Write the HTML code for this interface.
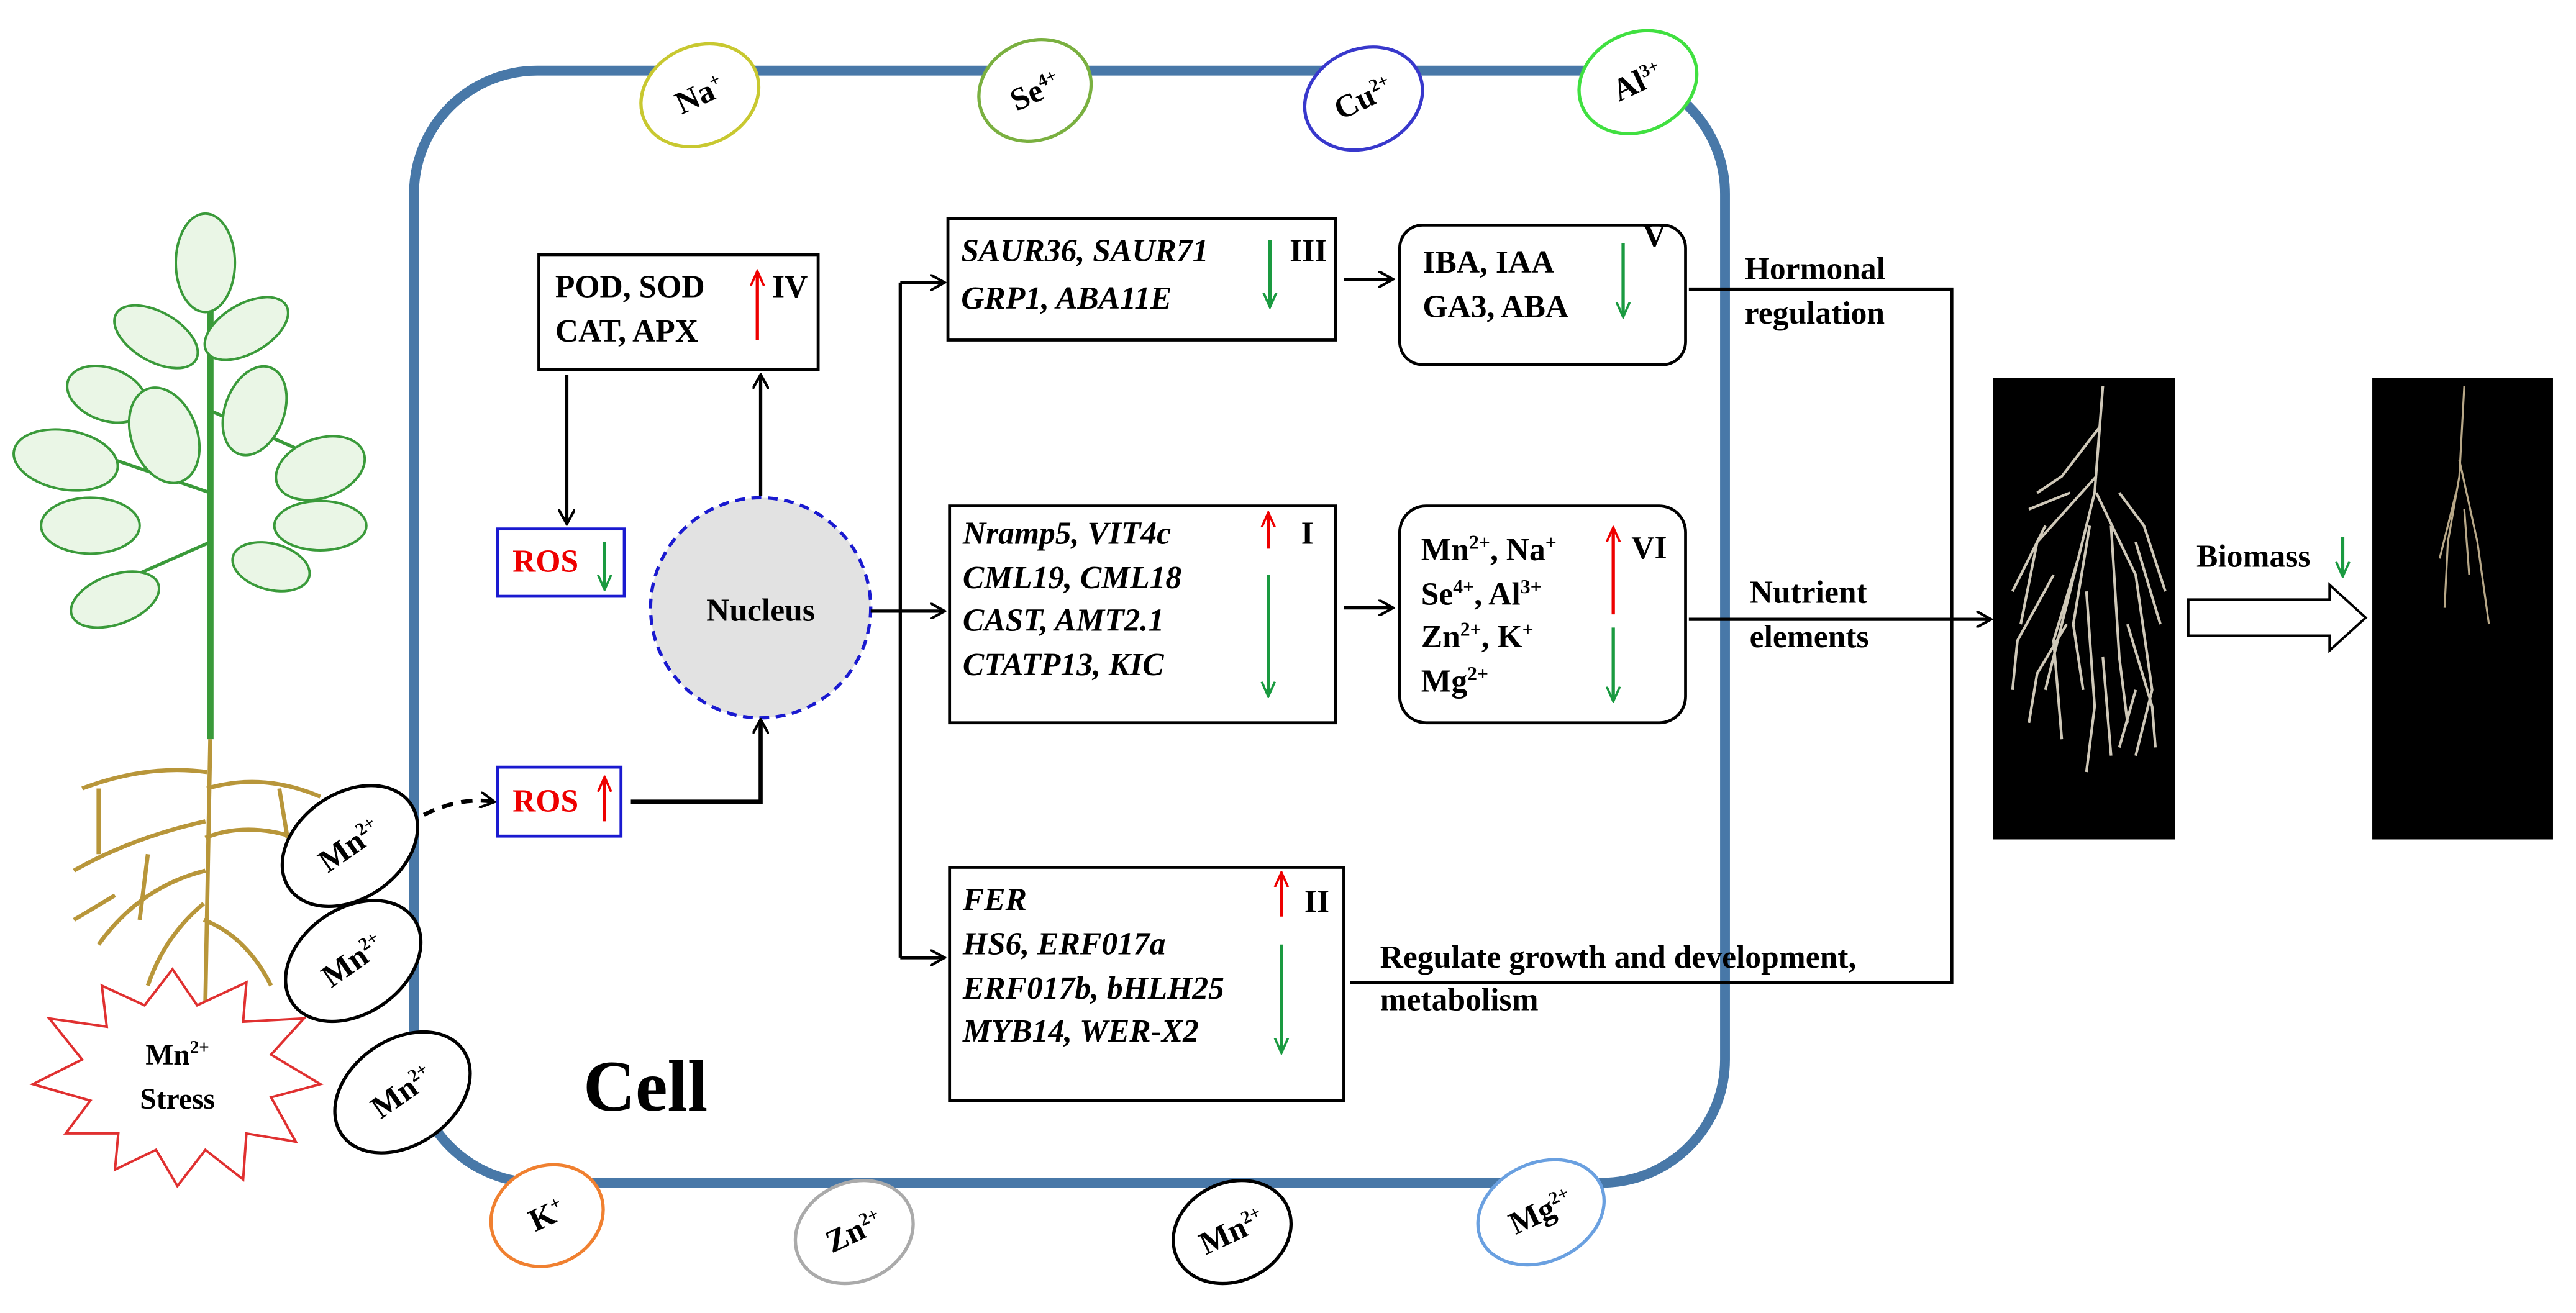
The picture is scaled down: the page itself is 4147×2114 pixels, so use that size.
<!DOCTYPE html>
<html><head><meta charset="utf-8"><style>
html,body{margin:0;padding:0;background:#fff;}
svg{display:block;}
text{font-family:"Liberation Serif",serif;font-weight:bold;fill:#000;}
.t{font-size:19.5px;}
.i{font-style:italic;}
</style></head><body>
<svg width="4147" height="2114" viewBox="0 0 1568 799.3" preserveAspectRatio="none" xmlns="http://www.w3.org/2000/svg">
<defs>
<marker id="ah" markerWidth="10" markerHeight="10" refX="8" refY="5" orient="auto" markerUnits="userSpaceOnUse"><path d="M0,0 L9,5 L0,10" fill="none" stroke="#000" stroke-width="1.6"/></marker>
<marker id="ar" markerWidth="10" markerHeight="10" refX="8" refY="5" orient="auto" markerUnits="userSpaceOnUse"><path d="M0,1 L9,5 L0,9" fill="none" stroke="#e00" stroke-width="1.4"/></marker>
<marker id="ag" markerWidth="10" markerHeight="10" refX="8" refY="5" orient="auto" markerUnits="userSpaceOnUse"><path d="M0,1 L9,5 L0,9" fill="none" stroke="#1a9a40" stroke-width="1.4"/></marker>
</defs>
<rect width="1568" height="800" fill="#fff"/>

<!-- plant -->
<g stroke="#3a9a3a" stroke-width="1.5" fill="#eaf6e6">
<line x1="128" y1="150" x2="128" y2="450" stroke-width="4"/>
<line x1="128" y1="300" x2="70" y2="280" stroke-width="2"/>
<line x1="128" y1="250" x2="185" y2="275" stroke-width="2"/>
<line x1="128" y1="330" x2="60" y2="360" stroke-width="2"/>
<ellipse cx="125" cy="160" rx="18" ry="30"/>
<ellipse cx="95" cy="205" rx="28" ry="15" transform="rotate(30 95 205)"/>
<ellipse cx="150" cy="200" rx="28" ry="15" transform="rotate(-30 150 200)"/>
<ellipse cx="65" cy="240" rx="25" ry="16" transform="rotate(20 65 240)"/>
<ellipse cx="40" cy="280" rx="32" ry="18" transform="rotate(10 40 280)"/>
<ellipse cx="100" cy="265" rx="20" ry="30" transform="rotate(-20 100 265)"/>
<ellipse cx="155" cy="250" rx="18" ry="28" transform="rotate(20 155 250)"/>
<ellipse cx="195" cy="285" rx="28" ry="18" transform="rotate(-20 195 285)"/>
<ellipse cx="195" cy="320" rx="28" ry="15"/>
<ellipse cx="55" cy="320" rx="30" ry="17"/>
<ellipse cx="70" cy="365" rx="28" ry="15" transform="rotate(-20 70 365)"/>
<ellipse cx="165" cy="345" rx="24" ry="14" transform="rotate(15 165 345)"/>
</g>
<g stroke="#b8963a" stroke-width="2.5" fill="none">
<path d="M128 450 L125 610"/>
<path d="M126 470 Q90 465 50 480 M126 480 Q160 470 195 485 M125 500 Q80 510 45 530 M125 510 Q150 500 180 510 M125 530 Q85 540 60 575 M124 550 Q100 570 90 600 M124 560 Q150 570 165 600 M60 480 L60 520 M90 520 L85 560 M170 480 L175 510 M70 545 L45 560"/>
</g>

<!-- starburst -->
<polygon points="105,590 120,612 150,598 148,622 185,620 165,642 195,660 165,668 180,695 150,690 148,718 125,700 108,722 95,700 70,712 72,690 40,690 55,670 20,660 50,645 30,620 65,625 62,600 88,612" fill="#fff" stroke="#e03030" stroke-width="1.5"/>
<text x="108" y="648" class="t" text-anchor="middle" style="font-size:18px">Mn<tspan dy="-7" style="font-size:11px">2+</tspan></text>
<text x="108" y="675" class="t" text-anchor="middle" style="font-size:18px">Stress</text>

<!-- cell -->
<rect x="252" y="43" width="798" height="677" rx="75" fill="none" stroke="#4878a8" stroke-width="6"/>

<!-- ions -->
<g stroke-width="2" fill="#fff">
<ellipse cx="426" cy="58" rx="37" ry="30" stroke="#c8c830" transform="rotate(-25 426 58)"/>
<ellipse cx="630" cy="55" rx="35" ry="30" stroke="#7ab040" transform="rotate(-25 630 55)"/>
<ellipse cx="830" cy="60" rx="37" ry="30" stroke="#3838cc" transform="rotate(-25 830 60)"/>
<ellipse cx="997" cy="50" rx="37" ry="30" stroke="#40e040" transform="rotate(-25 997 50)"/>
<ellipse cx="333" cy="740" rx="35" ry="30" stroke="#f08030" transform="rotate(-25 333 740)"/>
<ellipse cx="520" cy="750" rx="37" ry="30" stroke="#aaaaaa" transform="rotate(-25 520 750)"/>
<ellipse cx="750" cy="750" rx="37" ry="30" stroke="#000" transform="rotate(-25 750 750)"/>
<ellipse cx="938" cy="738" rx="40" ry="30" stroke="#6aa0e0" transform="rotate(-25 938 738)"/>
<ellipse cx="213" cy="515" rx="45" ry="32" stroke="#000" transform="rotate(-35 213 515)"/>
<ellipse cx="215" cy="585" rx="45" ry="32" stroke="#000" transform="rotate(-35 215 585)"/>
<ellipse cx="245" cy="665" rx="45" ry="32" stroke="#000" transform="rotate(-35 245 665)"/>
</g>
<g class="t" style="font-size:18px">
<text x="426" y="64" text-anchor="middle" transform="rotate(-25 426 58)" class="t">Na<tspan dy="-7" style="font-size:11px">+</tspan></text>
<text x="630" y="62" text-anchor="middle" transform="rotate(-25 630 55)" class="t">Se<tspan dy="-7" style="font-size:11px">4+</tspan></text>
<text x="830" y="66" text-anchor="middle" transform="rotate(-25 830 60)" class="t">Cu<tspan dy="-7" style="font-size:11px">2+</tspan></text>
<text x="997" y="56" text-anchor="middle" transform="rotate(-25 997 50)" class="t">Al<tspan dy="-7" style="font-size:11px">3+</tspan></text>
<text x="333" y="746" text-anchor="middle" transform="rotate(-25 333 740)" class="t">K<tspan dy="-7" style="font-size:11px">+</tspan></text>
<text x="520" y="756" text-anchor="middle" transform="rotate(-25 520 750)" class="t">Zn<tspan dy="-7" style="font-size:11px">2+</tspan></text>
<text x="750" y="756" text-anchor="middle" transform="rotate(-25 750 750)" class="t">Mn<tspan dy="-7" style="font-size:11px">2+</tspan></text>
<text x="938" y="744" text-anchor="middle" transform="rotate(-25 938 738)" class="t">Mg<tspan dy="-7" style="font-size:11px">2+</tspan></text>
<text x="213" y="521" text-anchor="middle" transform="rotate(-35 213 515)" class="t">Mn<tspan dy="-7" style="font-size:11px">2+</tspan></text>
<text x="215" y="591" text-anchor="middle" transform="rotate(-35 215 585)" class="t">Mn<tspan dy="-7" style="font-size:11px">2+</tspan></text>
<text x="245" y="671" text-anchor="middle" transform="rotate(-35 245 665)" class="t">Mn<tspan dy="-7" style="font-size:11px">2+</tspan></text>
</g>

<text x="355" y="676" style="font-size:44px">Cell</text>

<!-- box IV -->
<rect x="328" y="155" width="170" height="70" fill="#fff" stroke="#000" stroke-width="1.8"/>
<text x="338" y="181" class="t">POD, SOD</text>
<text x="338" y="208" class="t">CAT, APX</text>
<line x1="461" y1="207" x2="461" y2="166" stroke="#e00" stroke-width="2" marker-end="url(#ar)"/>
<text x="470" y="181" class="t">IV</text>

<!-- ROS boxes -->
<rect x="303" y="322" width="77" height="41" fill="#fff" stroke="#1a1ad0" stroke-width="1.8"/>
<text x="312" y="348" class="t" style="fill:#e00">ROS</text>
<line x1="368" y1="330" x2="368" y2="358" stroke="#1a9a40" stroke-width="2" marker-end="url(#ag)"/>
<rect x="303" y="467" width="75" height="42" fill="#fff" stroke="#1a1ad0" stroke-width="1.8"/>
<text x="312" y="494" class="t" style="fill:#e00">ROS</text>
<line x1="368" y1="500" x2="368" y2="474" stroke="#e00" stroke-width="2" marker-end="url(#ar)"/>

<!-- nucleus -->
<circle cx="463" cy="370" r="67" fill="#e2e2e2" stroke="#1a1ad0" stroke-width="2" stroke-dasharray="6,4"/>
<text x="463" y="378" class="t" text-anchor="middle">Nucleus</text>

<g stroke="#000" stroke-width="2" fill="none">
<line x1="345" y1="228" x2="345" y2="318" marker-end="url(#ah)"/>
<line x1="463" y1="302" x2="463" y2="229" marker-end="url(#ah)"/>
<polyline points="384,488 463,488 463,439" stroke-width="2.5" marker-end="url(#ah)"/>
<path d="M258 496 Q280 485 300 488" stroke-dasharray="7,5" stroke-width="2.5" marker-end="url(#ah)"/>
<line x1="530" y1="372" x2="548" y2="372"/>
<line x1="548" y1="172" x2="548" y2="583"/>
<line x1="548" y1="172" x2="574" y2="172" marker-end="url(#ah)"/>
<line x1="548" y1="372" x2="574" y2="372" marker-end="url(#ah)"/>
<line x1="548" y1="583" x2="574" y2="583" marker-end="url(#ah)"/>
<line x1="818" y1="170" x2="847" y2="170" marker-end="url(#ah)"/>
<line x1="818" y1="370" x2="847" y2="370" marker-end="url(#ah)"/>
<polyline points="1028,176 1188,176 1188,598 822,598"/>
<line x1="1028" y1="377" x2="1211" y2="377" marker-end="url(#ah)"/>
</g>

<!-- box III -->
<rect x="577" y="133" width="236" height="74" fill="#fff" stroke="#000" stroke-width="1.8"/>
<text x="585" y="159" class="t i">SAUR36, SAUR71</text>
<text x="585" y="188" class="t i">GRP1, ABA11E</text>
<line x1="773" y1="146" x2="773" y2="186" stroke="#1a9a40" stroke-width="2" marker-end="url(#ag)"/>
<text x="785" y="159" class="t">III</text>

<!-- box I -->
<rect x="578" y="308" width="235" height="132" fill="#fff" stroke="#000" stroke-width="1.8"/>
<text x="586" y="331" class="t i">Nramp5, VIT4c</text>
<text x="586" y="358" class="t i">CML19, CML18</text>
<text x="586" y="384" class="t i">CAST, AMT2.1</text>
<text x="586" y="411" class="t i">CTATP13, KIC</text>
<line x1="772" y1="334" x2="772" y2="313" stroke="#e00" stroke-width="2" marker-end="url(#ar)"/>
<line x1="772" y1="350" x2="772" y2="423" stroke="#1a9a40" stroke-width="2" marker-end="url(#ag)"/>
<text x="792" y="331" class="t">I</text>

<!-- box II -->
<rect x="578" y="528" width="240" height="142" fill="#fff" stroke="#000" stroke-width="1.8"/>
<text x="586" y="554" class="t i">FER</text>
<text x="586" y="581" class="t i">HS6, ERF017a</text>
<text x="586" y="608" class="t i">ERF017b, bHLH25</text>
<text x="586" y="634" class="t i">MYB14, WER-X2</text>
<line x1="780" y1="558" x2="780" y2="532" stroke="#e00" stroke-width="2" marker-end="url(#ar)"/>
<line x1="780" y1="575" x2="780" y2="640" stroke="#1a9a40" stroke-width="2" marker-end="url(#ag)"/>
<text x="794" y="555" class="t">II</text>

<!-- box V -->
<rect x="852" y="137" width="174" height="85" rx="14" fill="#fff" stroke="#000" stroke-width="1.8"/>
<text x="866" y="166" class="t">IBA, IAA</text>
<text x="866" y="193" class="t">GA3, ABA</text>
<line x1="988" y1="148" x2="988" y2="192" stroke="#1a9a40" stroke-width="2" marker-end="url(#ag)"/>
<text x="1000" y="150" class="t">V</text>

<!-- box VI -->
<rect x="852" y="308" width="174" height="132" rx="16" fill="#fff" stroke="#000" stroke-width="1.8"/>
<text x="865" y="341" class="t">Mn<tspan dy="-7" style="font-size:12px">2+</tspan><tspan dy="7">, Na</tspan><tspan dy="-7" style="font-size:12px">+</tspan></text>
<text x="865" y="368" class="t">Se<tspan dy="-7" style="font-size:12px">4+</tspan><tspan dy="7">, Al</tspan><tspan dy="-7" style="font-size:12px">3+</tspan></text>
<text x="865" y="394" class="t">Zn<tspan dy="-7" style="font-size:12px">2+</tspan><tspan dy="7">, K</tspan><tspan dy="-7" style="font-size:12px">+</tspan></text>
<text x="865" y="421" class="t">Mg<tspan dy="-7" style="font-size:12px">2+</tspan></text>
<line x1="982" y1="374" x2="982" y2="322" stroke="#e00" stroke-width="2" marker-end="url(#ar)"/>
<line x1="982" y1="382" x2="982" y2="426" stroke="#1a9a40" stroke-width="2" marker-end="url(#ag)"/>
<text x="993" y="340" class="t">VI</text>

<!-- labels -->
<text x="1062" y="170" class="t">Hormonal</text>
<text x="1062" y="197" class="t">regulation</text>
<text x="1065" y="367" class="t">Nutrient</text>
<text x="1065" y="394" class="t">elements</text>
<text x="840" y="589" class="t">Regulate growth and development,</text>
<text x="840" y="615" class="t">metabolism</text>

<!-- root photos -->
<rect x="1213" y="230" width="111" height="281" fill="#000"/>
<g stroke="#cfc8b8" stroke-width="1.6" fill="none">
<path d="M1280 235 L1275 300 L1260 360 L1245 420 M1276 290 L1240 330 L1230 380 M1276 300 L1300 350 L1310 420 L1300 460 M1265 340 L1250 390 L1255 450 M1285 320 L1290 400 L1295 440 M1270 360 L1275 430 L1270 470 M1245 320 L1225 360 M1300 330 L1315 380 M1260 300 L1235 310"/>
<path d="M1278 260 L1255 290 L1240 300 M1272 320 L1262 380 L1268 420 M1290 300 L1305 320 L1318 360 M1258 380 L1240 410 L1235 440 M1295 380 L1310 430 L1312 455 M1280 400 L1285 460 M1250 350 L1228 390 L1225 420 M1300 420 L1290 455"/>
</g>
<rect x="1444" y="230" width="110" height="281" fill="#000"/>
<g stroke="#b8a888" stroke-width="1.2" fill="none">
<path d="M1500 235 L1497 290 L1490 330 L1488 370 M1497 280 L1508 330 L1515 380 M1495 300 L1485 340 M1500 310 L1503 350"/>
</g>
<polygon points="1332,365 1418,365 1418,356 1440,376 1418,396 1418,387 1332,387" fill="#fff" stroke="#000" stroke-width="1.5"/>
<text x="1337" y="345" class="t">Biomass</text>
<line x1="1426" y1="327" x2="1426" y2="350" stroke="#1a9a40" stroke-width="2" marker-end="url(#ag)"/>
</svg>
</body></html>
